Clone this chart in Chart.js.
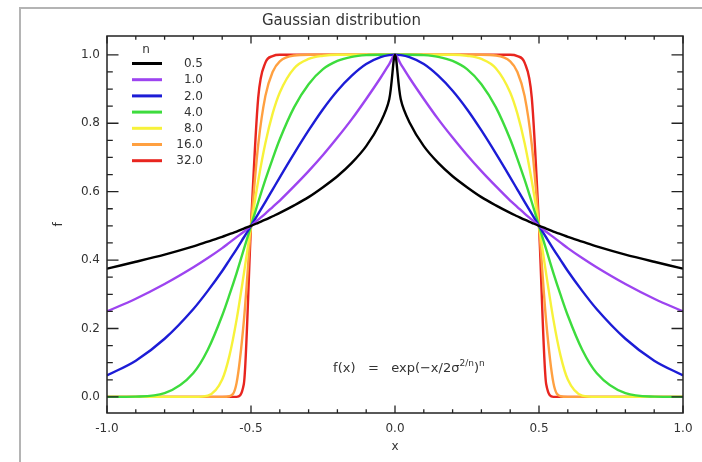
<!DOCTYPE html>
<html lang="tr">
<head>
<meta charset="utf-8">
<title>Gaussian distribution</title>
<script src="https://cdn.jsdelivr.net/npm/chart.js@4.4.1/dist/chart.umd.min.js"></script>
<style>
  html, body { margin: 0; padding: 0; background: #fff; }
  canvas { display: block; }
</style>
</head>
<body>
<canvas id="grafik" width="702" height="462"></canvas>
<script>
// Ortak x noktaları (0.5 civarında sık)
const xDegerleri = [
  -1, -0.9, -0.8, -0.7, -0.65, -0.6, -0.575, -0.55, -0.525, -0.5, -0.475,
  -0.45, -0.425, -0.4, -0.35, -0.3, -0.25, -0.2, -0.15, -0.1, -0.05, -0.02,
  0,
  0.02, 0.05, 0.1, 0.15, 0.2, 0.25, 0.3, 0.35, 0.4, 0.425, 0.45, 0.475,
  0.5, 0.525, 0.55, 0.575, 0.6, 0.65, 0.7, 0.8, 0.9, 1,
];

// Her n için okunan f değerleri
const egriN05 = [
  0.375, 0.395, 0.416, 0.44, 0.454, 0.468, 0.476, 0.483, 0.492, 0.5, 0.509,
  0.518, 0.528, 0.538, 0.56, 0.584, 0.613, 0.645, 0.684, 0.733, 0.803, 0.87,
  1,
  0.87, 0.803, 0.733, 0.684, 0.645, 0.613, 0.584, 0.56, 0.538, 0.528, 0.518, 0.509,
  0.5, 0.492, 0.483, 0.476, 0.468, 0.454, 0.44, 0.416, 0.395, 0.375,
];
const egriN1 = [
  0.25, 0.287, 0.33, 0.379, 0.406, 0.435, 0.451, 0.467, 0.483, 0.5, 0.518,
  0.536, 0.555, 0.574, 0.616, 0.66, 0.707, 0.758, 0.812, 0.871, 0.933, 0.973,
  1,
  0.973, 0.933, 0.871, 0.812, 0.758, 0.707, 0.66, 0.616, 0.574, 0.555, 0.536, 0.518,
  0.5, 0.483, 0.467, 0.451, 0.435, 0.406, 0.379, 0.33, 0.287, 0.25,
];
const egriN2 = [
  0.063, 0.106, 0.17, 0.257, 0.31, 0.368, 0.4, 0.432, 0.466, 0.5, 0.535,
  0.57, 0.606, 0.642, 0.712, 0.779, 0.841, 0.895, 0.939, 0.973, 0.993, 0.999,
  1,
  0.999, 0.993, 0.973, 0.939, 0.895, 0.841, 0.779, 0.712, 0.642, 0.606, 0.57, 0.535,
  0.5, 0.466, 0.432, 0.4, 0.368, 0.31, 0.257, 0.17, 0.106, 0.063,
];
const egriN4 = [
  0, 0.001, 0.011, 0.07, 0.138, 0.238, 0.298, 0.362, 0.431, 0.5, 0.569,
  0.635, 0.696, 0.753, 0.847, 0.914, 0.958, 0.982, 0.994, 0.999, 1, 1,
  1,
  1, 1, 0.999, 0.994, 0.982, 0.958, 0.914, 0.847, 0.753, 0.696, 0.635, 0.569,
  0.5, 0.431, 0.362, 0.298, 0.238, 0.138, 0.07, 0.011, 0.001, 0,
];
const egriN8 = [
  0, 0, 0, 0, 0.004, 0.051, 0.12, 0.226, 0.359, 0.5, 0.631,
  0.742, 0.828, 0.89, 0.961, 0.988, 0.997, 1, 1, 1, 1, 1,
  1,
  1, 1, 1, 1, 1, 0.997, 0.988, 0.961, 0.89, 0.828, 0.742, 0.631,
  0.5, 0.359, 0.226, 0.12, 0.051, 0.004, 0, 0, 0, 0,
];
const egriN16 = [
  0, 0, 0, 0, 0, 0, 0.002, 0.041, 0.22, 0.5, 0.737,
  0.88, 0.95, 0.981, 0.998, 1, 1, 1, 1, 1, 1, 1,
  1,
  1, 1, 1, 1, 1, 1, 1, 0.998, 0.981, 0.95, 0.88, 0.737,
  0.5, 0.22, 0.041, 0.002, 0, 0, 0, 0, 0, 0,
];
const egriN32 = [
  0, 0, 0, 0, 0, 0, 0, 0, 0.037, 0.5, 0.874,
  0.977, 0.996, 1, 1, 1, 1, 1, 1, 1, 1, 1,
  1,
  1, 1, 1, 1, 1, 1, 1, 1, 1, 0.996, 0.977, 0.874,
  0.5, 0.037, 0, 0, 0, 0, 0, 0, 0, 0,
];

const nEtiketleri = ["0.5", "1.0", "2.0", "4.0", "8.0", "16.0", "32.0"];
const xEtiketDegerleri = [-1, -0.5, 0, 0.5, 1];
const yEtiketDegerleri = [0, 0.2, 0.4, 0.6, 0.8, 1.0];

const renkler = ["#000000", "#9d44f0", "#1c1cd6", "#3ddc3d", "#f7f23a", "#ffa040", "#e8251f"];
const egriler = [egriN05, egriN1, egriN2, egriN4, egriN8, egriN16, egriN32];

const yaziRengi = "#333333";
const yaziTipi = "'DejaVu Sans', sans-serif";

// Çerçeve ve arka plan
const cerceveEklentisi = {
  id: "cerceve",
  beforeDraw: function (chart) {
    const ctx = chart.ctx;
    ctx.save();
    ctx.fillStyle = "#ffffff";
    ctx.fillRect(0, 0, chart.width, chart.height);
    ctx.strokeStyle = "#b4b4b4";
    ctx.lineWidth = 2;
    ctx.beginPath();
    ctx.moveTo(20, chart.height);
    ctx.lineTo(20, 8);
    ctx.lineTo(chart.width, 8);
    ctx.stroke();
    ctx.restore();
  },
};

// Kutu ve içe dönük tik çizgileri
const kutuEklentisi = {
  id: "kutu",
  afterDatasetsDraw: function (chart) {
    const ctx = chart.ctx;
    const a = chart.chartArea;
    const xs = chart.scales.x;
    const ys = chart.scales.y;
    ctx.save();
    ctx.strokeStyle = "#222222";
    ctx.lineWidth = 1.5;
    ctx.strokeRect(a.left, a.top, a.right - a.left, a.bottom - a.top);

    ctx.lineWidth = 1.3;
    ctx.beginPath();
    // x tikleri: büyük 0.5, küçük 0.1
    for (let i = -10; i <= 10; i++) {
      const px = xs.getPixelForValue(i / 10);
      const uzun = i % 5 === 0 ? 7.5 : 3.8;
      ctx.moveTo(px, a.bottom);
      ctx.lineTo(px, a.bottom - uzun);
      ctx.moveTo(px, a.top);
      ctx.lineTo(px, a.top + uzun);
    }
    // y tikleri: büyük 0.2, küçük 0.05
    for (let j = 0; j <= 20; j++) {
      const py = ys.getPixelForValue(j * 0.05);
      const uzun = j % 4 === 0 ? 11.5 : 5.8;
      ctx.moveTo(a.left, py);
      ctx.lineTo(a.left + uzun, py);
      ctx.moveTo(a.right, py);
      ctx.lineTo(a.right - uzun, py);
    }
    ctx.stroke();
    ctx.restore();
  },
  afterDraw: function (chart) {
    const ctx = chart.ctx;
    const xs = chart.scales.x;
    const ys = chart.scales.y;
    ctx.save();

    // Lejant
    ctx.fillStyle = yaziRengi;
    ctx.font = "12px " + yaziTipi;
    ctx.textAlign = "center";
    ctx.textBaseline = "middle";
    ctx.fillText("n", 146, 50);
    chart.data.datasets.forEach(function (ds, i) {
      const y = 63.5 + i * 16.2;
      ctx.strokeStyle = ds.borderColor;
      ctx.lineWidth = 3;
      ctx.beginPath();
      ctx.moveTo(132, y);
      ctx.lineTo(162, y);
      ctx.stroke();
      ctx.textAlign = "right";
      ctx.fillText(ds.label, 203, y + 0.5);
    });

    // Formül yazısı
    let px = xs.getPixelForValue(-0.215);
    const taban = ys.getPixelForValue(0.072);
    const parcalar = [
      { t: "f(x)   =   exp(\u2212x/2\u03c3", b: 13, d: 0 },
      { t: "2/n", b: 9, d: -6 },
      { t: ")", b: 13, d: 0 },
      { t: "n", b: 9, d: -6 },
    ];
    ctx.textAlign = "left";
    ctx.textBaseline = "alphabetic";
    parcalar.forEach(function (p) {
      ctx.font = p.b + "px " + yaziTipi;
      ctx.fillText(p.t, px, taban + p.d);
      px += ctx.measureText(p.t).width;
    });
    ctx.restore();
  },
};

const veriSetleri = egriler.map(function (egri, i) {
  const ds = {
    label: nEtiketleri[i],
    data: egri.map(function (y, k) {
      return { x: xDegerleri[k], y: y };
    }),
    borderColor: renkler[i],
    backgroundColor: renkler[i],
    borderWidth: 2.4,
    pointRadius: 0,
    cubicInterpolationMode: "monotone",
    fill: false,
  };
  // n=0.5 tepede sivri, o yüzden düz bezier
  if (i === 0) {
    ds.cubicInterpolationMode = "default";
    ds.tension = 0.3;
  }
  return ds;
});

new Chart(document.getElementById("grafik"), {
  type: "line",
  data: { datasets: veriSetleri },
  options: {
    responsive: false,
    animation: false,
    events: [],
    layout: { padding: { left: 0, right: 19, top: 0, bottom: 0 } },
    plugins: {
      legend: { display: false },
      tooltip: { enabled: false },
      title: {
        display: true,
        text: "Gaussian distribution",
        color: yaziRengi,
        font: { family: yaziTipi, size: 15, weight: "normal" },
        padding: { top: 12, bottom: 6 },
      },
    },
    scales: {
      x: {
        type: "linear",
        position: "bottom",
        min: -1,
        max: 1,
        grid: { display: false, drawTicks: false },
        border: { display: false },
        afterBuildTicks: function (scale) {
          scale.ticks = xEtiketDegerleri.map(function (v) {
            return { value: v };
          });
        },
        afterFit: function (scale) {
          scale.height = 49;
        },
        ticks: {
          color: yaziRengi,
          font: { family: yaziTipi, size: 12 },
          padding: 9,
          maxRotation: 0,
          callback: function (v) {
            return v.toFixed(1);
          },
        },
        title: {
          display: true,
          text: "x",
          color: yaziRengi,
          font: { family: yaziTipi, size: 12 },
          padding: { top: 0, bottom: 8 },
        },
      },
      y: {
        type: "linear",
        min: -0.047,
        max: 1.055,
        grid: { display: false, drawTicks: false },
        border: { display: false },
        afterBuildTicks: function (scale) {
          scale.ticks = yEtiketDegerleri.map(function (v) {
            return { value: v };
          });
        },
        afterFit: function (scale) {
          scale.width = 107;
        },
        ticks: {
          color: yaziRengi,
          font: { family: yaziTipi, size: 12 },
          padding: 7,
          callback: function (v) {
            return v.toFixed(1);
          },
        },
        title: {
          display: true,
          text: "f",
          color: yaziRengi,
          font: { family: yaziTipi, size: 12 },
          padding: { top: 52, bottom: 0 },
        },
      },
    },
  },
  plugins: [cerceveEklentisi, kutuEklentisi],
});
</script>
</body>
</html>
